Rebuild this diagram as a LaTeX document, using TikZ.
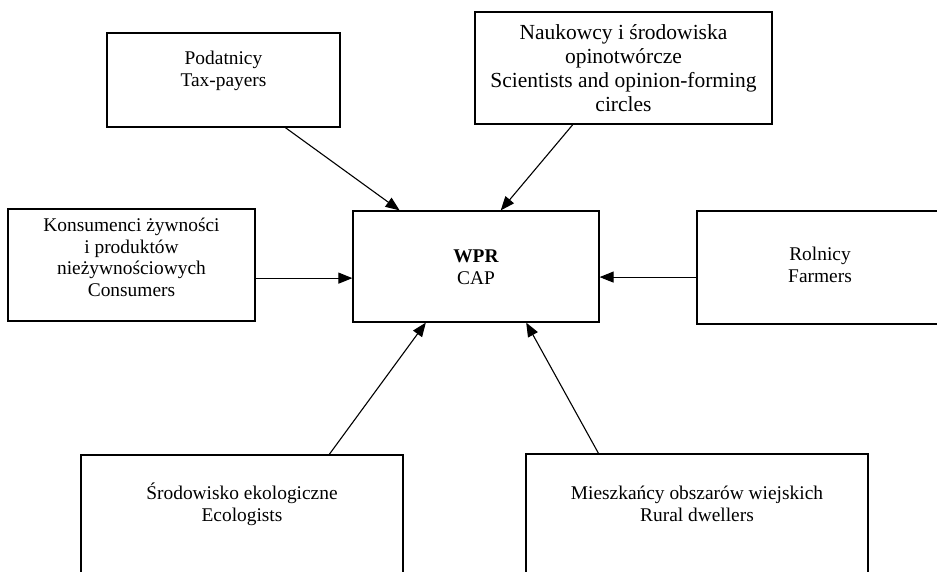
\documentclass[tikz,border=0pt]{standalone}
\usepackage{fontspec}
\setmainfont{Liberation Serif}
\usetikzlibrary{calc,arrows.meta}
\begin{document}
\begin{tikzpicture}[x=1pt,y=-1pt,
    box/.style={draw,line width=1.2pt,inner sep=0pt},
    txt/.style={align=center,inner sep=0pt,anchor=base,font=\fontsize{19.4}{21.7}\selectfont},
    arr/.style={line width=1.1pt,-{Triangle[length=14pt,width=11pt]}}]
  \useasboundingbox (0,0) rectangle (937,572);
  \clip (0,0) rectangle (937,572);
  % boxes
  \node[box,minimum width=233pt,minimum height=94pt] (pod) at (223.5,80) {};
  \node[box,minimum width=297pt,minimum height=112pt] (nauk) at (623.5,68) {};
  \node[box,minimum width=247pt,minimum height=112pt] (kons) at (131.5,265) {};
  \node[box,minimum width=246pt,minimum height=111pt] (wpr) at (476,266.5) {};
  \node[box,minimum width=246pt,minimum height=113pt] (rol) at (820,267.5) {};
  \node[box,minimum width=322pt,minimum height=135pt] (srod) at (242,522.5) {};
  \node[box,minimum width=342pt,minimum height=136pt] (miesz) at (697,522) {};
  % texts (anchored at the baseline of the last line)
  \node[txt] (podtxt) at ($(pod.north)+(0,54)$) {Podatnicy\\Tax-payers};
  \node[txt,font=\fontsize{21.5}{24}\selectfont] (nauktxt) at ($(nauk.north)+(0,100)$)
    {Naukowcy i środowiska\\opinotwórcze\\Scientists and opinion-forming\\circles};
  \node[txt] (konstxt) at ($(kons.north)+(0,88)$)
    {Konsumenci żywności\\i produktów\\nieżywnościowych\\Consumers};
  \node[txt] (wprtxt) at ($(wpr.north)+(0,74)$) {\textbf{WPR}\\CAP};
  \node[txt] (roltxt) at ($(rol.north)+(0,72)$) {Rolnicy\\Farmers};
  \node[txt] (srodtxt) at ($(srod.north)+(0,67)$) {Środowisko ekologiczne\\Ecologists};
  \node[txt] (miesztxt) at ($(miesz.north)+(0,68)$) {Mieszkańcy obszarów wiejskich\\Rural dwellers};
  % arrows
  \draw[arr] ($(pod.south west)!.764!(pod.south east)$) -- ($(wpr.north west)!.191!(wpr.north east)$);
  \draw[arr] ($(nauk.south west)!.33!(nauk.south east)$) -- ($(wpr.north west)!.60!(wpr.north east)$);
  \coordinate (k1) at ($(kons.north east)!.616!(kons.south east)$);
  \draw[arr] (k1) -- (k1 -| wpr.west);
  \coordinate (r1) at ($(rol.north west)!.584!(rol.south west)$);
  \draw[arr] (r1) -- (r1 -| wpr.east);
  \draw[arr] ($(srod.north west)!.77!(srod.north east)$) -- ($(wpr.south west)!.297!(wpr.south east)$);
  \draw[arr] ($(miesz.north west)!.213!(miesz.north east)$) -- ($(wpr.south west)!.703!(wpr.south east)$);
\end{tikzpicture}
\end{document}
